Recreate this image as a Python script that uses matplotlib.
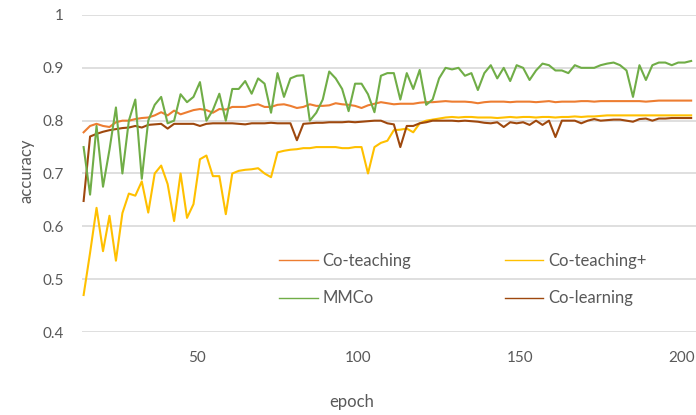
import numpy as np
import matplotlib
matplotlib.use("Agg")
import matplotlib.pyplot as plt

plt.rcParams['font.family'] = ['Lato', 'DejaVu Sans']

epochs = list(range(15, 205, 2))

co_teaching = [
    0.778, 0.790, 0.794, 0.790, 0.788, 0.797, 0.800, 0.800, 0.803, 0.805,
    0.806, 0.810, 0.816, 0.810, 0.819, 0.812, 0.816, 0.820, 0.822, 0.820,
    0.815, 0.822, 0.821,
    0.826, 0.826, 0.826, 0.829, 0.831, 0.826, 0.826, 0.830, 0.831, 0.828,
    0.824, 0.826, 0.831, 0.828, 0.828, 0.829, 0.833, 0.831, 0.830, 0.828,
    0.824, 0.829, 0.832, 0.835, 0.833, 0.831, 0.832, 0.832, 0.832, 0.834,
    0.835, 0.835, 0.836, 0.837, 0.836, 0.836,
    0.836, 0.835, 0.833, 0.835, 0.836, 0.836, 0.836, 0.835, 0.836, 0.836,
    0.836, 0.835, 0.836, 0.837, 0.835, 0.836, 0.836, 0.836, 0.837, 0.837,
    0.836, 0.837, 0.837, 0.837, 0.837, 0.837, 0.837, 0.837, 0.836, 0.837,
    0.838, 0.838, 0.838, 0.838, 0.838, 0.838,
]

co_teaching_plus = [
    0.470, 0.550, 0.635, 0.553, 0.620, 0.535, 0.625, 0.662, 0.658, 0.685,
    0.626, 0.700, 0.715, 0.680, 0.610, 0.700, 0.616, 0.642, 0.727, 0.734,
    0.695, 0.695, 0.623,
    0.700, 0.705, 0.707, 0.708, 0.710, 0.700, 0.693, 0.740, 0.743, 0.745,
    0.746, 0.748, 0.748, 0.750, 0.750, 0.750, 0.750, 0.748, 0.748, 0.750,
    0.750, 0.700, 0.750, 0.758, 0.762, 0.782, 0.783, 0.785, 0.778, 0.795,
    0.800, 0.802, 0.804, 0.806, 0.807, 0.806,
    0.807, 0.807, 0.806, 0.806, 0.806, 0.805, 0.806, 0.807, 0.806, 0.807,
    0.807, 0.806, 0.807, 0.807, 0.806, 0.807, 0.807, 0.808, 0.807, 0.808,
    0.808, 0.809, 0.810, 0.810, 0.810, 0.810, 0.810, 0.810, 0.810, 0.810,
    0.810, 0.810, 0.810, 0.810, 0.810, 0.810,
]

mmco = [
    0.750, 0.660, 0.790, 0.675, 0.745, 0.825, 0.700, 0.800, 0.840, 0.690,
    0.800, 0.830, 0.845, 0.795, 0.800, 0.850, 0.835, 0.845, 0.873, 0.800,
    0.820, 0.851, 0.800,
    0.860, 0.860, 0.875, 0.851, 0.880, 0.870, 0.815, 0.890, 0.845, 0.880,
    0.885, 0.886, 0.800, 0.815, 0.840, 0.893, 0.880, 0.860, 0.818, 0.870,
    0.870, 0.850, 0.816, 0.885, 0.890, 0.890, 0.840, 0.890, 0.860, 0.896,
    0.830, 0.840, 0.880, 0.900, 0.897, 0.900,
    0.885, 0.890, 0.858, 0.890, 0.905, 0.880, 0.900, 0.875, 0.905, 0.900,
    0.877, 0.895, 0.908, 0.905, 0.895, 0.895, 0.890, 0.905, 0.900, 0.900,
    0.900, 0.905, 0.908, 0.910, 0.905, 0.895, 0.845, 0.905, 0.877, 0.905,
    0.910, 0.910, 0.905, 0.910, 0.910, 0.913,
]

co_learning = [
    0.648, 0.770, 0.775, 0.779, 0.782, 0.784, 0.786, 0.787, 0.790, 0.787,
    0.792, 0.793, 0.794, 0.785, 0.794, 0.794, 0.794, 0.794, 0.790, 0.794,
    0.795, 0.795, 0.795,
    0.795, 0.794, 0.793, 0.795, 0.795, 0.795, 0.796, 0.795, 0.795, 0.795,
    0.763, 0.794, 0.795, 0.796, 0.796, 0.797, 0.797, 0.797, 0.798, 0.797,
    0.798, 0.799, 0.800, 0.800, 0.795, 0.793, 0.750, 0.790, 0.790, 0.795,
    0.797, 0.800, 0.800, 0.800, 0.800, 0.799,
    0.800, 0.799, 0.798, 0.796, 0.795, 0.797, 0.788, 0.797, 0.795, 0.797,
    0.792, 0.800, 0.792, 0.800, 0.769, 0.800, 0.800, 0.800, 0.795, 0.800,
    0.803, 0.800, 0.801, 0.802, 0.802, 0.800, 0.798, 0.803, 0.804, 0.800,
    0.804, 0.804, 0.805, 0.805, 0.805, 0.805,
]

x_ticks = [50, 100, 150, 200]
y_ticks = [0.4, 0.5, 0.6, 0.7, 0.8, 0.9, 1.0]
y_tick_labels = ['0.4', '0.5', '0.6', '0.7', '0.8', '0.9', '1']

text_gray = '#595959'

fig = plt.figure(figsize=(6.96, 4.15), dpi=100)
ax = fig.add_axes([82 / 696, 83 / 415, 614 / 696, 317 / 415])

l_ct, = ax.plot(epochs, co_teaching, color='#ED7D31', lw=1.5, label='Co-teaching')
l_ctp, = ax.plot(epochs, co_teaching_plus, color='#FFC000', lw=1.5, label='Co-teaching+')
l_cl, = ax.plot(epochs, co_learning, color='#9E480E', lw=1.5, label='Co-learning')
l_mm, = ax.plot(epochs, mmco, color='#70AD47', lw=1.5, label='MMCo')

ax.set_xlim(14.5, 204.5)
ax.set_ylim(0.4, 1.0)
ax.set_xticks(x_ticks)
ax.set_yticks(y_ticks)
ax.set_yticklabels(y_tick_labels)
ax.grid(axis='y', color='#d9d9d9', lw=1.2)
ax.set_axisbelow(True)
for s in ax.spines.values():
    s.set_visible(False)
ax.tick_params(length=0, labelsize=11, labelcolor=text_gray)
ax.tick_params(axis='y', pad=13)
ax.tick_params(axis='x', pad=14)

ax.set_xlabel('epoch', fontsize=12, color=text_gray)
ax.xaxis.set_label_coords(0.44, -0.195)
ax.set_ylabel('accuracy', fontsize=12, color=text_gray)
ax.yaxis.set_label_coords(-0.078, 0.51)

# ncol fills column-wise, so order handles for row-wise reading
leg = fig.legend([l_ct, l_mm, l_ctp, l_cl],
                 ['Co-teaching', 'MMCo', 'Co-teaching+', 'Co-learning'],
                 ncol=2, frameon=False, loc='center',
                 bbox_to_anchor=(463 / 696, 1 - 279.5 / 415),
                 fontsize=12, handlelength=2.3, handletextpad=0.3,
                 columnspacing=5.6, labelspacing=1.3, borderpad=0)
for t in leg.get_texts():
    t.set_color(text_gray)
for h in leg.legend_handles:
    h.set_linewidth(1.0)

fig.savefig('out.png', dpi=100)
